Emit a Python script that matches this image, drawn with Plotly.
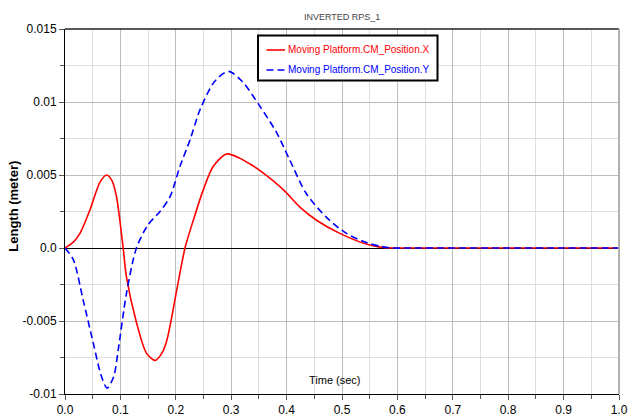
import plotly.graph_objects as go

# Data
t_x = [0, 0.015, 0.027, 0.045, 0.063, 0.075, 0.085, 0.093, 0.105, 0.111, 0.129, 0.147,
       0.1625, 0.175, 0.184, 0.2016, 0.2166, 0.2316, 0.2497, 0.2677, 0.2918, 0.316,
       0.334, 0.352, 0.394, 0.424, 0.454, 0.496, 0.545, 0.569, 0.59, 0.62, 0.7, 0.8, 0.9, 1.0]
pos_x = [0, 0.0004, 0.001, 0.0026, 0.0045, 0.0050, 0.0046, 0.0035, 0.0, -0.002, -0.0051,
         -0.0072, -0.0077, -0.0072, -0.0063, -0.0029, 0.0, 0.0019, 0.0040, 0.0056, 0.00644,
         0.00614, 0.00575, 0.0053, 0.0040, 0.0028, 0.0019, 0.0010, 0.00025, 0.00006,
         0, 0, 0, 0, 0, 0]

t_y = [0, 0.015, 0.033, 0.051, 0.065, 0.076, 0.088, 0.096, 0.111, 0.129, 0.150, 0.1715,
       0.1895, 0.2076, 0.2256, 0.244, 0.27, 0.295, 0.32, 0.352, 0.382, 0.406, 0.436,
       0.472, 0.508, 0.545, 0.569, 0.59, 0.62, 0.7, 0.8, 0.9, 1.0]
pos_y = [0, -0.0008, -0.0036, -0.0065, -0.0087, -0.0096, -0.0088, -0.0070, -0.0031, 0,
         0.0016, 0.0025, 0.0035, 0.0056, 0.0074, 0.0095, 0.0114, 0.0121, 0.0114, 0.0097,
         0.0079, 0.0060, 0.0037, 0.0021, 0.0010, 0.00036, 0.00012, 0, 0, 0, 0, 0, 0]

series_names = ["Moving Platform.CM_Position.X", "Moving Platform.CM_Position.Y"]
series_colors = ["#ff0000", "#0000ff"]

x_ticks = [0.0, 0.1, 0.2, 0.3, 0.4, 0.5, 0.6, 0.7, 0.8, 0.9, 1.0]
x_labels = ["0.0", "0.1", "0.2", "0.3", "0.4", "0.5", "0.6", "0.7", "0.8", "0.9", "1.0"]
y_ticks = [-0.01, -0.005, 0.0, 0.005, 0.01, 0.015]
y_labels = ["-0.01", "-0.005", "0.0", "0.005", "0.01", "0.015"]

FONT = "Liberation Sans, Arial, sans-serif"
DASH = "7px,4px"

fig = go.Figure()
fig.add_trace(go.Scatter(x=t_x, y=pos_x, mode="lines", name=series_names[0],
                         showlegend=False,
                         line=dict(color=series_colors[0], width=1.6, shape="spline",
                                   smoothing=0.8)))
fig.add_trace(go.Scatter(x=t_y, y=pos_y, mode="lines", name=series_names[1],
                         showlegend=False,
                         line=dict(color=series_colors[1], width=1.6, dash=DASH,
                                   shape="spline", smoothing=0.8)))

# Custom legend box (paper coordinates)
lx0, lx1, ly0, ly1 = 0.3484, 0.6724, 0.8589, 0.9822
row_y = [0.9425, 0.8877]
shapes = [
    dict(type="line", xref="paper", yref="paper", x0=0, x1=1, y0=1, y1=1,
         line=dict(color="#222222", width=1.5)),
    dict(type="line", xref="paper", yref="paper", x0=1, x1=1, y0=0, y1=1,
         line=dict(color="#b0b0b0", width=2)),
    dict(type="rect", xref="paper", yref="paper", x0=lx0, x1=lx1, y0=ly0, y1=ly1,
         fillcolor="white", line=dict(color="black", width=2), layer="above"),
    dict(type="line", xref="paper", yref="paper", x0=0.3637, x1=0.3971,
         y0=row_y[0], y1=row_y[0], line=dict(color=series_colors[0], width=1.6),
         layer="above"),
    dict(type="line", xref="paper", yref="paper", x0=0.3637, x1=0.3971,
         y0=row_y[1], y1=row_y[1], line=dict(color=series_colors[1], width=1.6, dash=DASH),
         layer="above"),
]

annotations = [
    dict(text="INVERTED RPS_1", xref="paper", yref="paper", x=0.5, y=1.033,
         xanchor="center", yanchor="middle", showarrow=False,
         font=dict(family=FONT, size=9, color="#444444")),
    dict(text="Time (sec)", xref="paper", yref="paper", x=0.4865, y=0.038,
         xanchor="center", yanchor="middle", showarrow=False,
         font=dict(family=FONT, size=11, color="black")),
    dict(text="<b>Length (meter)</b>", xref="paper", yref="paper", x=-0.0944, y=0.515,
         xanchor="center", yanchor="middle", textangle=-90, showarrow=False,
         font=dict(family=FONT, size=13, color="black")),
]
for name, color, yy in zip(series_names, series_colors, row_y):
    annotations.append(dict(text=name, xref="paper", yref="paper", x=0.3989, y=yy,
                            xanchor="left", yanchor="middle", showarrow=False,
                            font=dict(family=FONT, size=10, color=color)))

fig.update_layout(
    width=628, height=418,
    margin=dict(l=65, r=9, t=29, b=24),
    paper_bgcolor="white", plot_bgcolor="white",
    font=dict(family=FONT, size=12, color="black"),
    showlegend=False,
    shapes=shapes,
    annotations=annotations,
)

fig.update_xaxes(
    range=[0, 1.0], tickvals=x_ticks, ticktext=x_labels, automargin=False,
    showline=True, linecolor="black", linewidth=1, mirror=False,
    ticks="outside", ticklen=5, tickcolor="#555555",
    showgrid=True, gridcolor="#bdbdbd", gridwidth=1, zeroline=False,
    minor=dict(dtick=0.05, tick0=0, showgrid=True, gridcolor="#dedede",
               ticks="outside", ticklen=4, tickcolor="#555555"),
    tickfont=dict(family=FONT, size=12),
)
fig.update_yaxes(
    range=[-0.01, 0.015], tickvals=y_ticks, ticktext=y_labels, automargin=False,
    showline=True, linecolor="black", linewidth=1,
    ticks="outside", ticklen=5, tickcolor="#555555",
    showgrid=True, gridcolor="#bdbdbd", gridwidth=1,
    zeroline=True, zerolinecolor="black", zerolinewidth=1,
    minor=dict(dtick=0.0025, tick0=0, showgrid=True, gridcolor="#dedede",
               ticks="outside", ticklen=4, tickcolor="#555555"),
    tickfont=dict(family=FONT, size=12),
)

fig.write_html("out.html", config={"displayModeBar": False},
               post_script="document.body.style.margin='0px';document.body.style.overflow='hidden';")
